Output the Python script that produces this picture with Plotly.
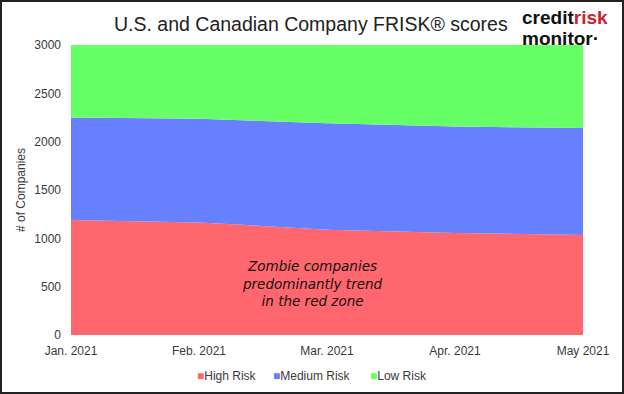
import plotly.graph_objects as go

months = ["Jan. 2021", "Feb. 2021", "Mar. 2021", "Apr. 2021", "May 2021"]
high_risk = [1190, 1165, 1090, 1055, 1035]
medium_risk = [1060, 1073, 1100, 1101, 1107]
low_risk = [750, 762, 810, 844, 858]
series_names = ["High Risk", "Medium Risk", "Low Risk"]
series_colors = ["#FF666E", "#6680FF", "#66FF66"]

W, H = 624, 394
ML, MR, MT, MB = 71, 41, 45, 59
pw, ph = W - ML - MR, H - MT - MB

def px_x(x):
    return (x - ML) / pw

def px_y(y):
    return (MT + ph - y) / ph

fig = go.Figure()
for name, vals, col in zip(series_names, [high_risk, medium_risk, low_risk], series_colors):
    fig.add_trace(go.Scatter(x=months, y=vals, name=name, stackgroup="one", mode="none",
                             fillcolor=col, showlegend=False, hoverinfo="x+y+name"))

fig.update_layout(
    width=W, height=H,
    margin=dict(l=ML, r=MR, t=MT, b=MB, autoexpand=False),
    paper_bgcolor="white", plot_bgcolor="white",
    font=dict(family="Liberation Sans, Arial, sans-serif", size=12, color="#444"),
    showlegend=False,
    xaxis=dict(type="category", range=[0, 4], showgrid=False, zeroline=False, automargin=False,
               showline=False, ticks="", ticklabelstandoff=7, tickfont=dict(size=12, color="#3a3a3a")),
    yaxis=dict(range=[0, 3000], dtick=500, showgrid=False, zeroline=False, showline=False,
               automargin=False, ticks="", ticklabelstandoff=9, tickfont=dict(size=12, color="#3a3a3a"),
               title=dict(text="# of Companies", font=dict(size=12, color="#3a3a3a"), standoff=6)),
)

# legend drawn as text swatches
legend_x = [195, 271, 368]
for name, col, lx in zip(series_names, series_colors, legend_x):
    fig.add_annotation(text=f"<span style='color:{col}'>■</span>{name}", xref="paper", yref="paper",
                       x=px_x(lx), xanchor="left", y=px_y(376), yanchor="middle", showarrow=False,
                       font=dict(size=12, color="#3a3a3a", family="Liberation Sans, Arial, sans-serif"))

fig.add_annotation(text="U.S. and Canadian Company FRISK® scores", xref="paper", yref="paper",
                   x=px_x(311), y=px_y(24), yanchor="middle", showarrow=False,
                   font=dict(size=19.5, color="#222", family="Liberation Sans, Arial, sans-serif"))
fig.add_annotation(text="<b>credit<span style='color:#D0202E'>risk</span></b>",
                   xref="paper", yref="paper", x=px_x(520), xanchor="left",
                   y=px_y(18), yanchor="middle", showarrow=False,
                   font=dict(size=19, color="#111", family="Liberation Sans, Arial, sans-serif"))
fig.add_annotation(text="<b>monitor·</b>",
                   xref="paper", yref="paper", x=px_x(520), xanchor="left",
                   y=px_y(39), yanchor="middle", showarrow=False,
                   font=dict(size=19, color="#111", family="Liberation Sans, Arial, sans-serif"))
fig.add_annotation(text="<i>Zombie companies<br>predominantly trend<br>in the red zone</i>",
                   xref="paper", yref="paper", x=px_x(312), y=px_y(283), yanchor="middle",
                   showarrow=False,
                   font=dict(size=13.5, color="#111", family="DejaVu Sans, sans-serif"))

fig.add_shape(type="rect", xref="paper", yref="paper",
              x0=px_x(1), x1=px_x(W - 1), y0=px_y(H - 1), y1=px_y(1),
              line=dict(color="#222", width=2), layer="above")

fig.write_html("out.html", config={"displayModeBar": False},
               post_script="document.body.style.margin='0px';")
